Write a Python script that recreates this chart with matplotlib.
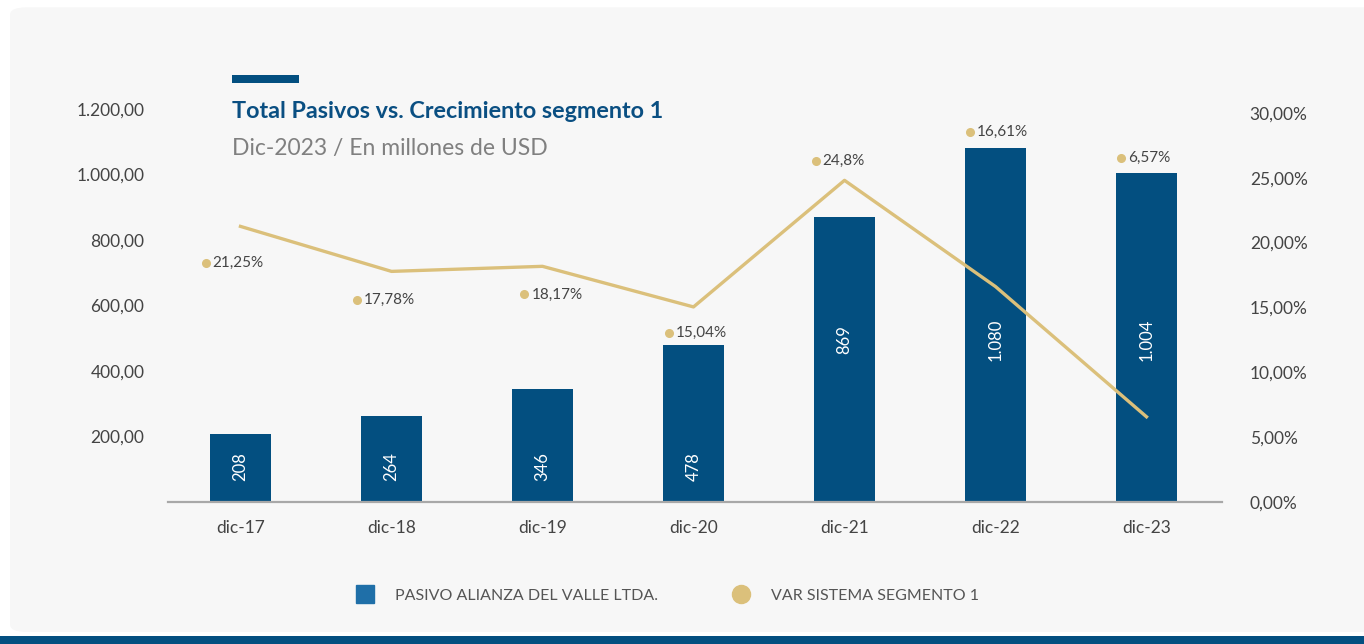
import matplotlib.pyplot as plt
from matplotlib.patches import FancyBboxPatch, Rectangle
from matplotlib.lines import Line2D

plt.rcParams["font.family"] = ["Lato", "DejaVu Sans"]

# data
periods = ["dic-17", "dic-18", "dic-19", "dic-20", "dic-21", "dic-22", "dic-23"]
pasivo = [208, 264, 346, 478, 869, 1080, 1004]
pasivo_labels = ["208", "264", "346", "478", "869", "1.080", "1.004"]
var_segmento = [21.25, 17.78, 18.17, 15.04, 24.8, 16.61, 6.57]
var_labels = ["21,25%", "17,78%", "18,17%", "15,04%", "24,8%", "16,61%", "6,57%"]
left_ticks = [200, 400, 600, 800, 1000, 1200]
left_ticklabels = ["200,00", "400,00", "600,00", "800,00", "1.000,00", "1.200,00"]
right_ticks = [0, 5, 10, 15, 20, 25, 30]
right_ticklabels = ["0,00%", "5,00%", "10,00%", "15,00%", "20,00%", "25,00%", "30,00%"]

# placement of the free-floating labels (not data)
bar_label_y = [107, 107, 107, 107, 495, 495, 495]
dot_pos = [(-0.23, 18.4), (-0.23, 15.6), (-0.12, 16.0), (-0.16, 13.0),
           (-0.19, 26.3), (-0.17, 28.5), (-0.17, 26.5)]

BLUE = "#034f80"
GOLD = "#dbc07b"
GREY_TXT = "#444444"

fig = plt.figure(figsize=(13.64, 6.44), dpi=100)
fig.patch.set_facecolor("white")

# background panel and bottom band
fig.patches.append(FancyBboxPatch((10 / 1364, 12 / 644), 1.1, 0.97,
                                  boxstyle="round,pad=0,rounding_size=0.012",
                                  transform=fig.transFigure, fc="#f7f7f7", ec="none", zorder=-2))
fig.patches.append(Rectangle((0, 0), 1, 8 / 644, transform=fig.transFigure,
                             fc=BLUE, ec="none", zorder=-1))
fig.patches.append(Rectangle((232 / 1364, 1 - 83 / 644), 67 / 1364, 8 / 644,
                             transform=fig.transFigure, fc=BLUE, ec="none"))

ax = fig.add_axes([168 / 1364, 1 - 502 / 644, 1054 / 1364, 393 / 644])
ax.set_facecolor("none")
x = range(len(periods))
ax.bar(x, pasivo, width=0.4, color=BLUE, zorder=2)
for i, (yl, lab) in enumerate(zip(bar_label_y, pasivo_labels)):
    ax.text(i, yl, lab, rotation=90, ha="center", va="center", color="white",
            fontsize=12, zorder=4)

ax.set_xlim(-0.48, 6.5)
ax.set_ylim(0, 1200)
ax.set_yticks(left_ticks)
ax.set_yticklabels(left_ticklabels)
ax.set_xticks(list(x))
ax.set_xticklabels(periods)
ax.tick_params(axis="y", length=0, pad=17, labelsize=12.5, labelcolor=GREY_TXT)
ax.tick_params(axis="x", length=0, pad=13, labelsize=12.5, labelcolor=GREY_TXT)
for s in ["top", "right", "left"]:
    ax.spines[s].set_visible(False)
ax.spines["bottom"].set_color("#a8a8a8")
ax.spines["bottom"].set_linewidth(1.6)

ax2 = ax.twinx()
ax2.plot(list(x), var_segmento, color=GOLD, lw=2.4, zorder=3)
ax2.set_ylim(0, 30.3)
ax2.set_yticks(right_ticks)
ax2.set_yticklabels(right_ticklabels)
ax2.tick_params(axis="y", length=0, pad=20, labelsize=12.5, labelcolor=GREY_TXT)
for s in ["top", "right", "left", "bottom"]:
    ax2.spines[s].set_visible(False)

for i, ((dx, yv), lab) in enumerate(zip(dot_pos, var_labels)):
    ax2.plot(i + dx, yv, "o", color=GOLD, ms=5.5, zorder=4)
    ax2.annotate(lab, (i + dx, yv), xytext=(5, 0), textcoords="offset points",
                 ha="left", va="center", fontsize=11, color=GREY_TXT)

fig.text(232 / 1364, 1 - 112 / 644, "Total Pasivos vs. Crecimiento segmento 1",
         fontsize=16.8, fontweight="bold", color="#0a4f82", va="center")
fig.text(232 / 1364, 1 - 149 / 644, "Dic-2023 / En millones de USD",
         fontsize=16.5, color="#808080", va="center")

handles = [
    Line2D([], [], marker="s", ls="none", ms=13, color="#1f6fa8"),
    Line2D([], [], marker="o", ls="none", ms=13, color=GOLD),
]
leg = fig.legend(handles, ["PASIVO ALIANZA DEL VALLE LTDA.", "VAR SISTEMA SEGMENTO 1"],
                 loc="center", bbox_to_anchor=(664 / 1364, 1 - 596 / 644), ncol=2,
                 frameon=False, fontsize=11.5, columnspacing=4.2, handletextpad=0.9)
for t in leg.get_texts():
    t.set_color("#555555")

fig.savefig("out.png", dpi=100, facecolor=fig.get_facecolor())
